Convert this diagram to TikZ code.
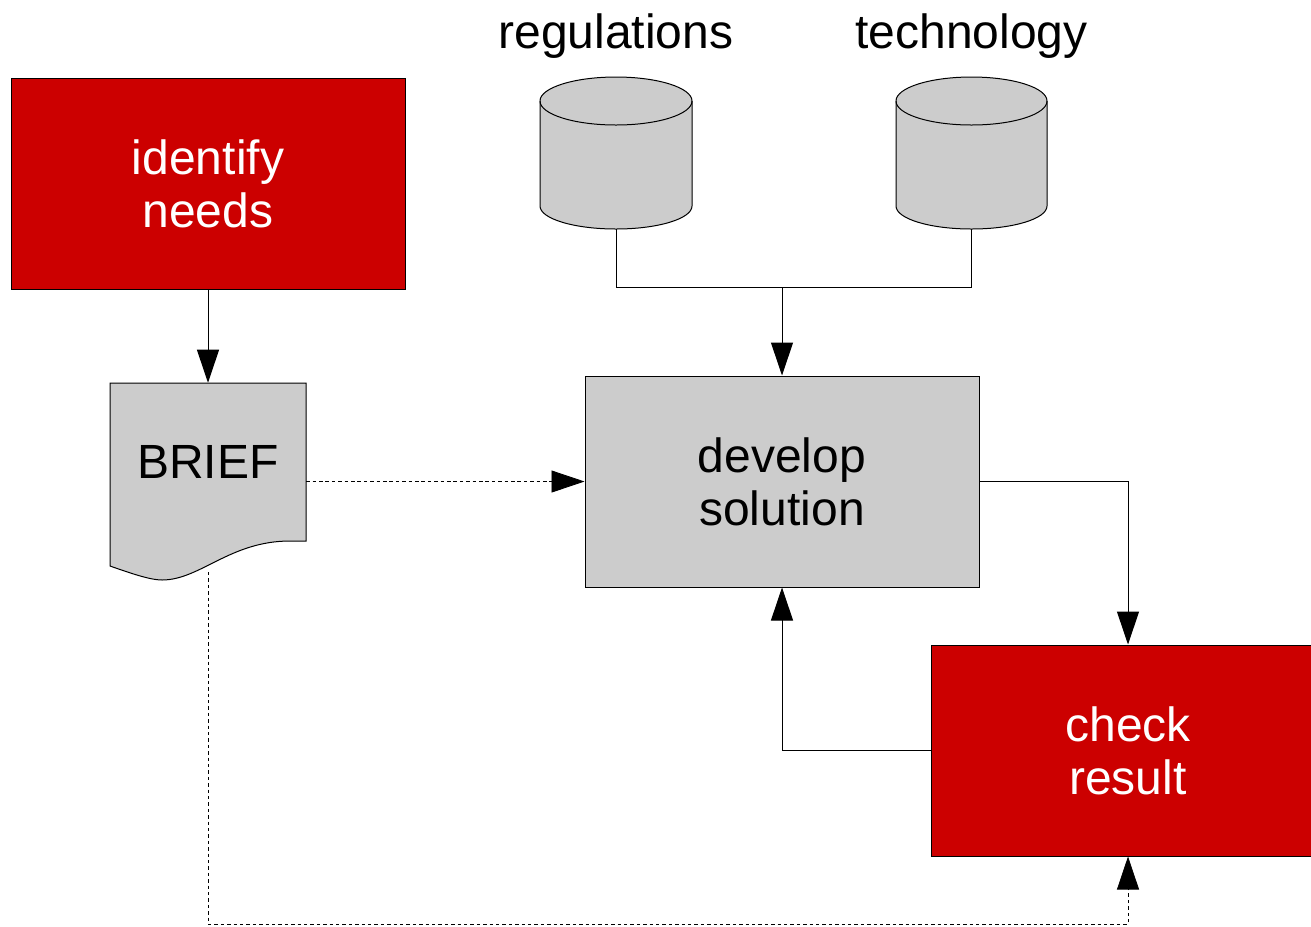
\documentclass[tikz,border=0pt]{standalone}
\usepackage{fontspec}
\setmainfont{Liberation Sans}
\usetikzlibrary{arrows.meta,calc}
\definecolor{boxred}{HTML}{CC0000}
\definecolor{boxgray}{HTML}{CCCCCC}
\begin{document}
\begin{tikzpicture}[x=0.75pt,y=-0.75pt,
  every node/.style={font=\fontsize{36}{39.75}\selectfont, inner sep=0pt},
  box/.style={draw=black, line width=0.75pt, minimum width=295.5pt,
    minimum height=158.25pt, align=center},
  redbox/.style={box, fill=boxred, text=white},
  graybox/.style={box, fill=boxgray, text=black},
  shapeline/.style={draw=black, line width=0.75pt, fill=boxgray},
  plain/.style={line width=0.75pt},
  flow/.style={line width=0.75pt, -{Triangle[length=24.75pt,width=16.5pt]}},
  dotflow/.style={flow, line width=0.6pt, dash pattern=on 2.6pt off 2.2pt},
]
\clip (0,0) rectangle (1311,926);

% document shape behind the BRIEF label
\path[shapeline] (110,383) -- (306,383) -- (306,541) -- (290,541)
  .. controls (230,541) and (200,580) .. (162,580)
  .. controls (150,580) and (130,573) .. (110,566) -- cycle;

% storage cylinders
\path[shapeline] (540,101) -- (540,206) arc (180:0:76 and 23)
  -- (692,101) arc (0:-180:76 and 24) -- cycle;
\draw[plain] (540,101) arc (180:0:76 and 24);
\path[shapeline] (896,101) -- (896,206) arc (180:0:75.5 and 23)
  -- (1047,101) arc (0:-180:75.5 and 24) -- cycle;
\draw[plain] (896,101) arc (180:0:75.5 and 24);

\coordinate (regbot) at (616,229);
\coordinate (techbot) at (971.5,229);
\coordinate (junc) at (782,287);
\coordinate (briefbot) at (208,572);
\coordinate (low) at (208,924);

\node[anchor=base] (reglabel) at (616,48) {regulations};
\node[anchor=base] (techlabel) at (971.5,48) {technology};

\node[redbox] (needs) at (208,184) {identify\\needs};
\node[minimum width=147pt, minimum height=118.5pt] (brief) at (208,462) {BRIEF};
\node[graybox] (dev) at (782,481.5) {develop\\solution};
\node[redbox] (check) at (1128,750.5) {check\\result};

% connectors
\draw[flow] (needs.south) -- (brief.north);
\draw[dotflow] (brief.east |- dev.west) -- (dev.west);
\draw[plain] (regbot) |- (junc);
\draw[plain] (techbot) |- (junc);
\draw[flow] (junc) -- (dev.north);
\draw[flow] (dev.east) -| (check.north);
\draw[flow] (check.west) -| (dev.south);
\draw[dotflow] (briefbot) -- (low) -| (check.south);
\end{tikzpicture}
\end{document}
